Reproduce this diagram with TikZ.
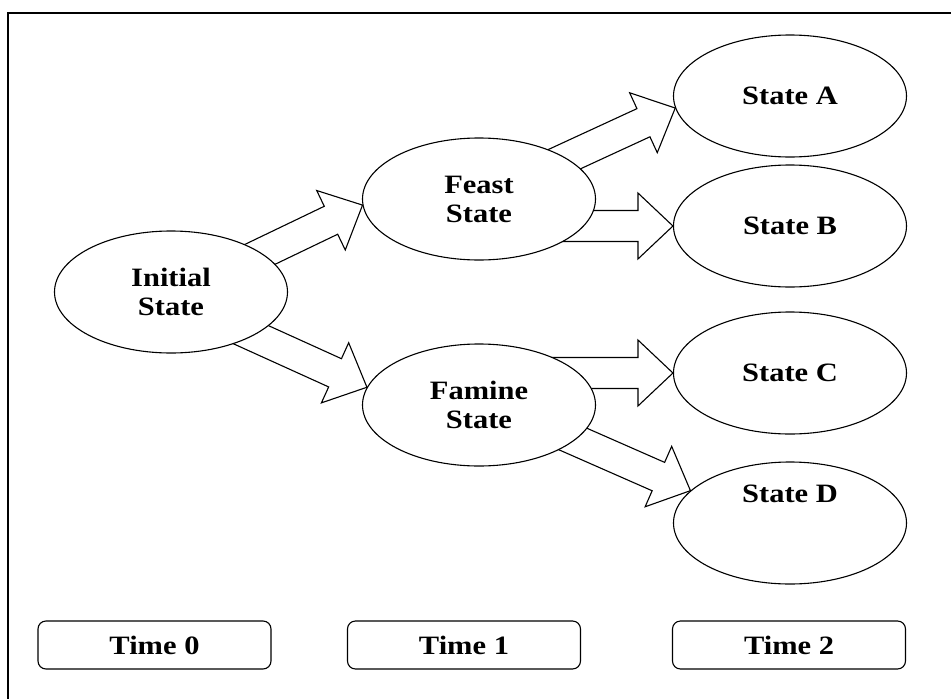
\documentclass[tikz,border=0pt]{standalone}
\usepackage{fontspec}
\setmainfont{Liberation Serif}
\newfontfamily\statefont[FakeStretch=1.15]{Liberation Serif}
\usetikzlibrary{calc,shapes.geometric,backgrounds}

% wide hollow arrow from #1 to #2
\newcommand{\fatarrow}[2]{%
  \coordinate (fa-s) at ($(#1)!-40pt!(#2)$);
  \coordinate (fa-e) at (#2);
  \coordinate (fa-b) at ($(fa-e)!35pt!(fa-s)$);
  \draw[fat] ($(fa-s)!15.5pt!90:(fa-e)$) -- ($(fa-b)!15.5pt!90:(fa-e)$)
    -- ($(fa-b)!33pt!90:(fa-e)$) -- (fa-e) -- ($(fa-b)!33pt!-90:(fa-e)$)
    -- ($(fa-b)!15.5pt!-90:(fa-e)$) -- ($(fa-s)!15.5pt!-90:(fa-e)$) -- cycle;
}

\begin{document}
\begin{tikzpicture}[x=1pt,y=-1pt,line width=1.1pt,
  state/.style={ellipse, draw, fill=white, minimum width=233pt,
    minimum height=122pt, inner sep=0pt, align=center,
    font=\statefont\bfseries\fontsize{26.5}{29}\selectfont},
  timebox/.style={rectangle, rounded corners=8pt, draw, fill=white,
    minimum width=233pt, minimum height=48pt,
    font=\statefont\bfseries\fontsize{26.5}{29}\selectfont},
  fat/.style={draw, fill=white, line width=1.1pt, line join=miter}]
\useasboundingbox (0,0) rectangle (951,699);
%frame
\draw[line width=1.5pt] (8,699) -- (8,13) -- (951,13);

%states
\node[state] (init) at (171,292) {Initial\\State};
\node[state] (feast) at (479,199) {Feast\\State};
\node[state] (famine) at (479,405) {Famine\\State};
\node[state] (stateA) at (790,96) {State A};
\node[state] (stateB) at (790,226) {State B};
\node[state] (stateC) at (790,373) {State C};
\node[state, text height=19pt, text depth=61pt] (stateD) at (790,523) {State D};

%time labels
\node[timebox] (t0) at (154.5,645) {Time 0};
\node[timebox] (t1) at (464,645) {Time 1};
\node[timebox] (t2) at (789,645) {Time 2};

%arrows
\begin{scope}[on background layer]
\fatarrow{init.23}{feast.183}
\fatarrow{init.332}{famine.171}
\fatarrow{feast.25}{stateA.186}
\fatarrow{feast |- stateB}{stateB.west}
\fatarrow{famine |- stateC}{stateC.west}
\fatarrow{famine.340}{stateD.162}
\end{scope}
\end{tikzpicture}
\end{document}
